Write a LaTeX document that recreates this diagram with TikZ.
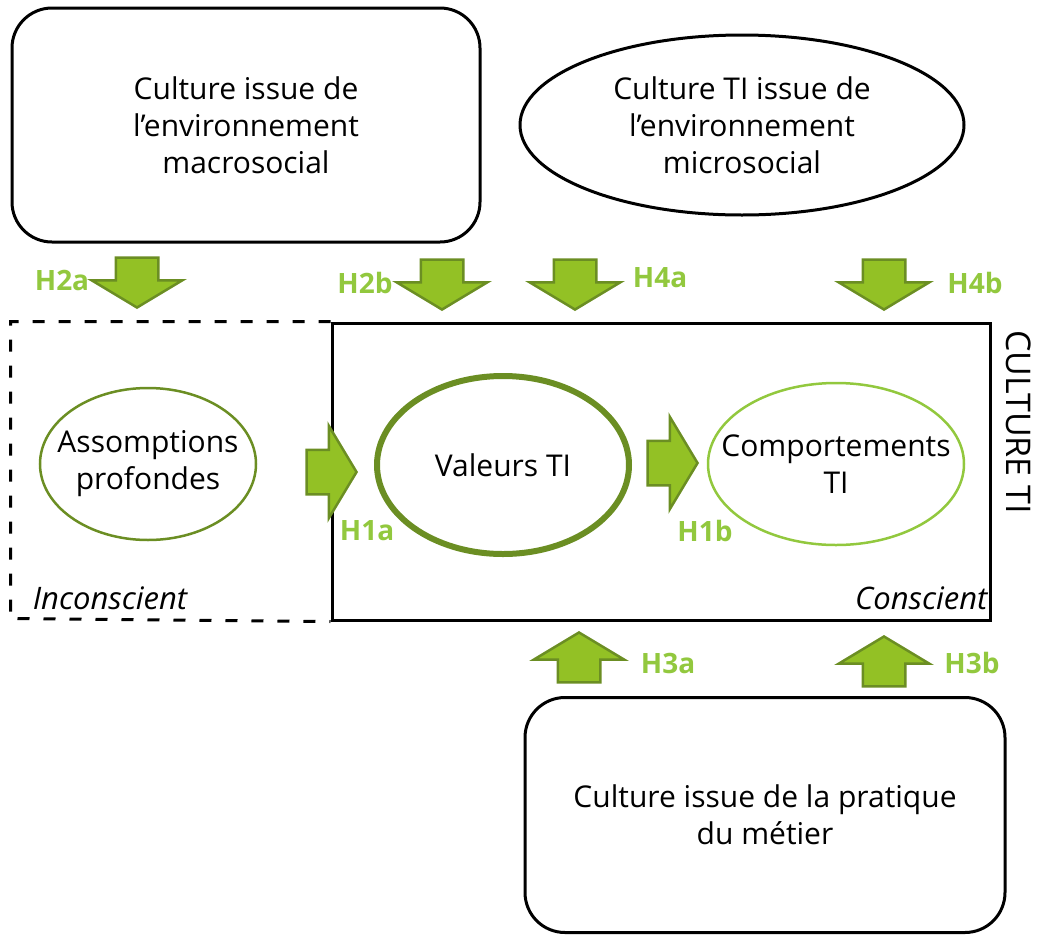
\documentclass[tikz,border=0pt]{standalone}
\usepackage{fontspec}
\setmainfont{Open Sans}
\usetikzlibrary{shapes.geometric,shapes.arrows,positioning}
\definecolor{arrow_green}{HTML}{93C125}
\definecolor{olive_green}{HTML}{6B8E23}
\definecolor{light_green}{HTML}{92C83E}

\begin{document}
\begin{tikzpicture}[
        x=1pt, y=-1pt,
        onlytext/.style={align=center, font=\fontsize{30}{37}\selectfont},
        roundbox/.style={rectangle, rounded corners=40pt, draw, line width=3pt, onlytext},
        bubble/.style={ellipse, draw, inner sep=0pt},
        hlabel/.style={text=light_green, font=\fontsize{28}{30}\selectfont\bfseries},
        blockarrow/.style={single arrow, draw=olive_green, fill=arrow_green, line width=2.5pt,
            inner xsep=0pt, inner ysep=20pt, minimum height=50pt, anchor=tip,
            single arrow head extend=24pt, single arrow tip angle=118},
        downarrow/.style={blockarrow, rotate=-90},
        uparrow/.style={blockarrow, rotate=90},
        rightarrow/.style={blockarrow, inner ysep=21pt},
    ]
    \useasboundingbox (0,0) rectangle (1037,935);

    % ------------ outer sources
    \node[roundbox, minimum width=468pt, minimum height=234pt] (macro) at (246,125)
        {Culture issue de\\l’environnement\\macrosocial};
    \node[bubble, line width=3pt, minimum width=444pt, minimum height=180pt,
        label={[onlytext]center:Culture TI issue de\\l’environnement\\microsocial}] (micro) at (742,125) {};
    \node[roundbox, minimum width=480pt, minimum height=235pt] (metier) at (765,815)
        {Culture issue de la pratique\\du métier};

    % ------------ culture TI frame
    \node[draw, line width=3pt, minimum width=658pt, minimum height=297pt, inner sep=0pt] (conscious) at (661,471.5) {};
    \draw[line width=3pt, dash pattern=on 12pt off 14pt]
        (conscious.north west) -- ++(-320,0) coordinate (unconsciousnw)
        -- ++(0,297) coordinate (unconsciousse) -- (conscious.south west);
    \node[onlytext, font=\fontsize{34}{34}\selectfont, rotate=-90] (culturelabel) at (1019,422) {CULTURE TI};
    \node[onlytext, font=\fontsize{31}{34}\selectfont\itshape] (inconscient) at (110,598) {Inconscient};
    \node[onlytext, font=\fontsize{31}{34}\selectfont\itshape, anchor=east] (conscient) at (991,598) {Conscient};

    % ------------ levels
    \node[bubble, draw=olive_green, line width=2.5pt, minimum width=216pt, minimum height=152pt,
        label={[onlytext]center:Assomptions\\profondes}] (assomptions) at (148,464) {};
    \node[bubble, draw=olive_green, line width=6pt, minimum width=252pt, minimum height=178pt,
        label={[onlytext]center:Valeurs TI}] (valeurs) at (503,465) {};
    \node[bubble, draw=light_green, line width=2.5pt, minimum width=256pt, minimum height=162pt,
        label={[onlytext]center:Comportements\\TI}] (comportements) at (836,464) {};

    % ------------ hypotheses
    \node[rightarrow] (arrowhia) at (358,472) {};
    \node[rightarrow] (arrowhib) at (699,463) {};
    \node[hlabel] (hia) at (367,531) {H1a};
    \node[hlabel] (hib) at (705,531) {H1b};

    \node[downarrow] (arrowhiia) at (137,309) {};
    \node[downarrow] (arrowhiib) at (442,311) {};
    \node[downarrow] (arrowhiva) at (575,311) {};
    \node[downarrow] (arrowhivb) at (884,311) {};
    \node[hlabel] (hiia) at (62,280) {H2a};
    \node[hlabel] (hiib) at (365,283) {H2b};
    \node[hlabel] (hiva) at (660,278) {H4a};
    \node[hlabel] (hivb) at (975,283) {H4b};

    \node[uparrow] (arrowhiiia) at (579,631) {};
    \node[uparrow] (arrowhiiib) at (884,635) {};
    \node[hlabel] (hiiia) at (668,663) {H3a};
    \node[hlabel] (hiiib) at (972,663) {H3b};
\end{tikzpicture}
\end{document}
